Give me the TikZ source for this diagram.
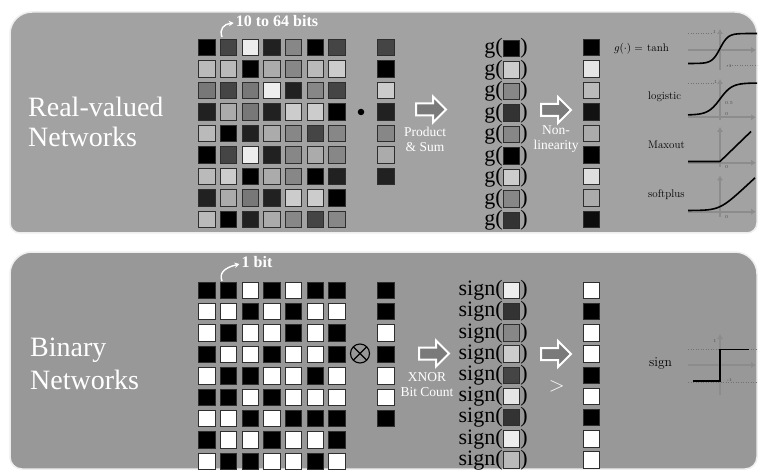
\documentclass[tikz,border=0pt]{standalone}
\usepackage{fontspec}
\newfontfamily\tnr{Liberation Serif}
\usetikzlibrary{arrows.meta, positioning, shapes.arrows}
\definecolor{panelbg}{HTML}{A2A2A2}
\definecolor{panelbgb}{HTML}{989898}
\definecolor{panelrim}{HTML}{EEEEEE}
\definecolor{sqedge}{HTML}{2E2E2E}
\definecolor{axisgray}{HTML}{8C8C8C}
\definecolor{arrgray}{HTML}{7A7A7A}
\tikzset{
	panel/.style={draw=panelrim, line width=1.5pt},
	sq/.style={draw=sqedge, line width=0.9pt, minimum size=16.4pt, inner sep=0pt},
	bigtxt/.style={text=white, align=left, anchor=west, inner sep=0pt},
	optxt/.style={text=white, font=\tnr\fontsize{13.5}{15}\selectfont, align=center, inner sep=0pt},
	bitstxt/.style={text=white, font=\tnr\bfseries\fontsize{16}{18}\selectfont, inner sep=1pt},
	fntxt/.style={font=\tnr\fontsize{22}{22}\selectfont, inner sep=0pt},
	barr/.style={single arrow, draw=white, fill=arrgray, line width=2pt, minimum height=30pt,
		inner xsep=0pt, inner ysep=5pt, single arrow head extend=7pt},
	fnlabel/.style={font=\fontsize{11}{11}\selectfont, anchor=base west, inner sep=0pt},
	ticklbl/.style={font=\fontsize{4.5}{5}\selectfont, text=black!70, inner sep=0pt},
	axarr/.style={draw=axisgray, line width=2.2pt, -{Latex[length=5pt,width=6.5pt]}},
	dotguide/.style={draw=black!55, dotted, line width=0.5pt},
	fncurve/.style={draw=black, line width=1.6pt},
	curlarr/.style={draw=white, line width=1.4pt, -{Stealth[length=5pt,width=5.5pt]}},
	xorsign/.style={circle, draw=black, line width=1.1pt, minimum size=19pt, inner sep=0pt,
		path picture={\draw[line width=1.1pt] (path picture bounding box.north west) -- (path picture bounding box.south east)
			(path picture bounding box.north east) -- (path picture bounding box.south west);}}
}

\begin{document}
\begin{tikzpicture}[x=1pt, y=-1pt]
	\fill[white] (0,0) rectangle (763,473);
	\useasboundingbox (0,0) rectangle (763,473);

	% the two panels
	\draw[panel, fill=panelbg] (10,120) [rounded corners=22pt] -- (10,12) -- (757,12) -- (757,120)
		[rounded corners=10pt] -- (757,233) -- (10,233) -- cycle;
	\draw[panel, fill=panelbgb] (10,360) [rounded corners=22pt] -- (10,252) -- (757,252) -- (757,360)
		[rounded corners=12pt] -- (757,469) -- (10,469) -- cycle;

	% ---- real-valued ----
	\node[bigtxt, font=\tnr\fontsize{28}{29.5}\selectfont] (realname) at (28,122) {Real-valued\\Networks};

	\foreach \row [count=\j from 0] in {{100,73,7,87,47,100,73},{27,27,100,33,47,27,20},
		{53,73,53,7,87,47,73},{87,33,53,87,20,20,100},{27,100,87,33,47,73,47},
		{100,73,7,87,47,33,47},{27,20,100,33,47,100,87},{87,33,53,87,20,20,100},
		{27,100,87,33,47,73,47}} {
		\foreach \v [count=\i from 0] in \row
			\node[sq, fill=black!\v] (a-\j-\i) at ({206.8+21.7*\i},{47.5+21.5*\j}) {};
	}
	\node[bitstxt] (bits) at (277,21) {10 to 64 bits};
	\coordinate (bitsfoot) at (222,37);
	\draw[curlarr] (bitsfoot) .. controls (219,29) and (224,24) .. ([xshift=-1pt,yshift=-2pt]bits.west);

	\node[circle, fill=black, minimum size=6.5pt, inner sep=0pt] (dotop) at (361,112) {};
	\foreach \v [count=\j from 0] in {73,100,20,87,47,33,87}
		\node[sq, fill=black!\v] (x-\j) at (385.8,{47.5+21.5*\j}) {};

	\node[barr] (ps) at (428,109.5) {};
	\node[optxt, below=10pt of ps, xshift=-3pt] (pstxt) {Product\\\& Sum};

	\foreach \v [count=\j from 0] in {100,20,47,80,47,100,20,47,80} {
		\node[sq, fill=black!\v] (g-\j) at (511.5,{48.3+21.5*\j}) {};
		\node[fntxt, anchor=east] (gl-\j) at (g-\j.west) {g(};
		\node[fntxt, anchor=west] (gr-\j) at (g-\j.east) {)};
	}

	\node[barr] (nl) at (553,110) {};
	\node[optxt, below=8pt of nl, xshift=3pt] (nltxt) {Non-\\linearity};

	\foreach \v [count=\j from 0] in {100,10,27,93,33,100,13,33,95}
		\node[sq, fill=black!\v] (y-\j) at (591.3,{47.5+21.5*\j}) {};

	% activation functions
	\node[fnlabel] (tanhlbl) at (647,51.7) {tanh};
	\node[anchor=base east, inner sep=0pt, font=\fontsize{11}{11}\selectfont] (gdef) at (643,51.7) {$g(\cdot) =$};
	\draw[dotguide] (688,33.3) -- (713,33.3);
	\draw[dotguide] (727,65.7) -- (757,65.7);
	\draw[axarr] (688,50) -- (756,50);
	\draw[axarr] (720,70) -- (720,29);
	\draw[fncurve] plot[domain=-32:37, samples=50] ({720+\x},{48.5-15*tanh(\x/8)});
	\node[ticklbl] (t1) at (714.3,32.3) {1};
	\node[ticklbl] (t2) at (729,65.7) {-1};

	\node[fnlabel] (logilbl) at (648,100) {logistic};
	\draw[dotguide] (688,83.3) -- (714,83.3);
	\draw[axarr] (688,117.3) -- (756,117.3);
	\draw[axarr] (720,120) -- (720,79);
	\draw[fncurve] plot[domain=-32:37, samples=50] ({720+\x},{115-32/(1+exp(-\x/6))});
	\node[ticklbl] (l1) at (715.7,81.7) {1};
	\node[ticklbl] (l2) at (729,103.3) {0.5};
	\node[ticklbl] (l3) at (726.7,114) {0};

	\node[fnlabel] (maxlbl) at (648,148.3) {Maxout};
	\draw[axarr] (688,162.7) -- (756,162.7);
	\draw[axarr] (720,166.7) -- (720,127);
	\draw[fncurve] (688,161.5) -- (720,161.5) -- (751,131.5);
	\node[ticklbl] (m1) at (726.7,166.7) {0};

	\node[fnlabel] (softlbl) at (648,197.3) {softplus};
	\draw[axarr] (688,211.7) -- (756,211.7);
	\draw[axarr] (720,216.7) -- (720,175.5);
	\draw[fncurve] plot[domain=-32:35, samples=50] ({720+\x},{210.5-5.6*ln(1+exp(\x/6))});
	\node[ticklbl] (s1) at (726.7,217) {0};

	% ---- binary ----
	\node[bigtxt, font=\tnr\fontsize{28}{32.5}\selectfont] (binname) at (30,364) {Binary\\Networks};

	\foreach \row [count=\j from 0] in {{100,100,0,100,0,100,100},{0,0,100,0,100,0,0},
		{0,100,0,0,100,0,100},{100,0,0,100,0,0,100},{0,100,100,0,0,100,0},
		{100,100,0,100,0,0,0},{0,0,100,0,100,100,100},{100,0,0,100,0,0,100},
		{0,100,100,0,0,100,0}} {
		\foreach \v [count=\i from 0] in \row
			\node[sq, fill=black!\v] (b-\j-\i) at ({206.8+21.7*\i},{290.2+21.4*\j}) {};
	}
	\node[bitstxt] (onebit) at (257,262) {1 bit};
	\coordinate (onebitfoot) at (222,281);
	\draw[curlarr] (onebitfoot) .. controls (219,273) and (224,268) .. ([xshift=-1pt,yshift=-2pt]onebit.west);

	\node[xorsign] (xnor) at (360,353.5) {};
	\foreach \v [count=\j from 0] in {100,100,0,100,0,0,100}
		\node[sq, fill=black!\v] (w-\j) at (385.8,{290.2+21.4*\j}) {};

	\node[barr] (xb) at (431,353.5) {};
	\node[optxt, below=12pt of xb, xshift=-4pt] (xbtxt) {XNOR\\Bit Count};

	\foreach \v [count=\j from 0] in {7,80,47,20,73,10,80,7,27} {
		\node[sq, fill=black!\v] (s-\j) at (511.5,{290.5+21.2*\j}) {};
		\node[fntxt, anchor=east] (sl-\j) at (s-\j.west) {sign(};
		\node[fntxt, anchor=west] (sr-\j) at (s-\j.east) {)};
	}

	\node[barr] (sg) at (553,354) {};
	\node[text=white, inner sep=0pt, font=\fontsize{22}{22}\selectfont] (gt) at (556.7,386.7) {$>$};

	\foreach \v [count=\j from 0] in {0,100,0,0,100,0,100,0,0}
		\node[sq, fill=black!\v] (z-\j) at (591.5,{290.5+21.2*\j}) {};

	% sign function
	\node[fnlabel, font=\fontsize{13.5}{14}\selectfont] (signlbl) at (649,366.7) {sign};
	\draw[dotguide] (688,349.3) -- (757,349.3);
	\draw[dotguide] (688,382.7) -- (757,382.7);
	\draw[axarr] (688,365) -- (756,365);
	\draw[axarr] (720,395) -- (720,334);
	\draw[fncurve] (693,380.7) -- (720,380.7) -- (720,349.3) -- (749,349.3);
	\node[ticklbl] (g1) at (715,341.5) {1};
	\node[ticklbl] (g2) at (729.5,380) {-1};
\end{tikzpicture}
\end{document}
